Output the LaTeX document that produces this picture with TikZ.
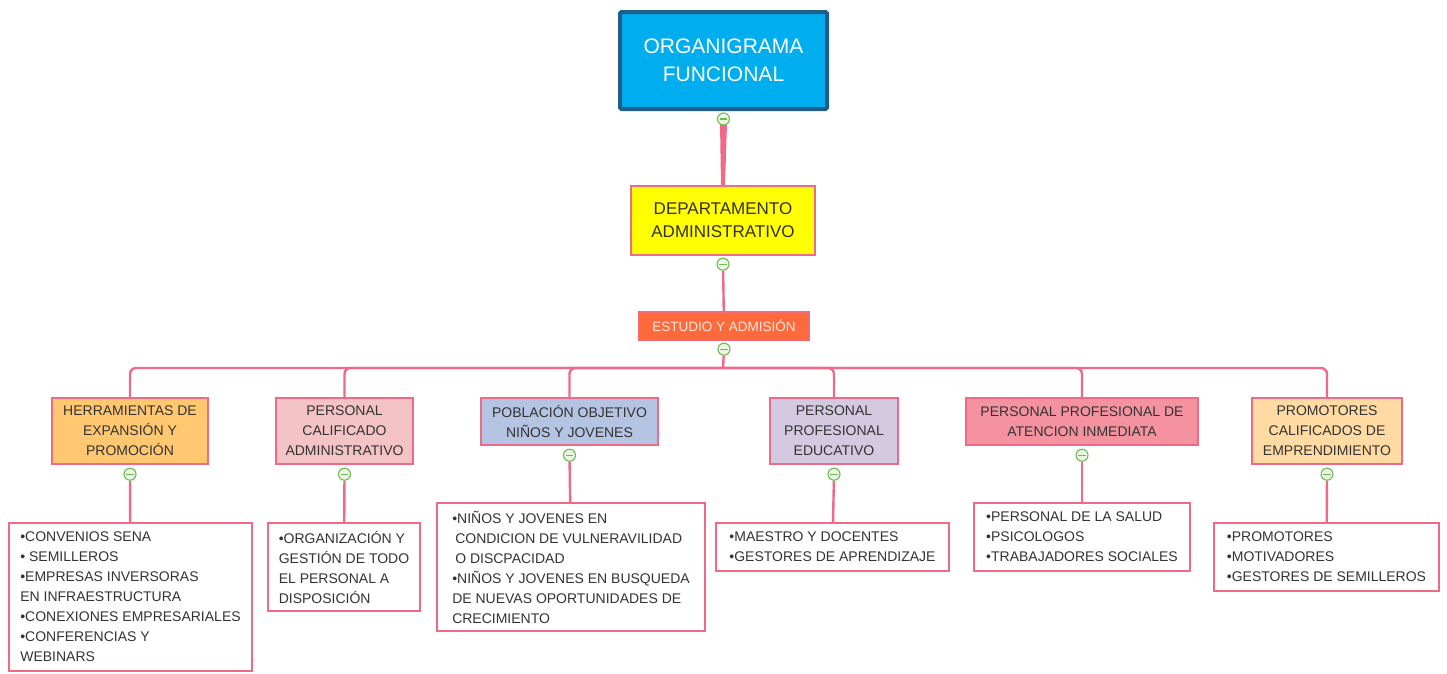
\documentclass[tikz,border=0pt]{standalone}
\usepackage{fontspec}
\setmainfont{Liberation Sans}
\usetikzlibrary{calc,backgrounds}
\definecolor{pinkc}{HTML}{F06A88}
\definecolor{txtc}{HTML}{333333}
\definecolor{topfill}{HTML}{00AEEF}
\definecolor{topborder}{HTML}{1D5E8A}
\definecolor{deptfill}{HTML}{FFFF00}
\definecolor{estfill}{HTML}{FF6A3D}
\definecolor{esttext}{HTML}{FFE6DA}
\definecolor{fherr}{HTML}{FFC870}
\definecolor{fpca}{HTML}{F4C3C5}
\definecolor{fpob}{HTML}{B4C4E2}
\definecolor{fppe}{HTML}{D3C9E0}
\definecolor{faten}{HTML}{F4939F}
\definecolor{fprom}{HTML}{FFDAA2}
\definecolor{colline}{HTML}{72B85A}
\definecolor{colfill}{HTML}{EAF6E2}
\tikzset{
  box/.style={draw=pinkc, line width=2.4pt, inner sep=2pt, align=center, text=txtc,
    font=\fontsize{14}{20}\selectfont},
  leafbox/.style={box, fill=white, align=left},
  conn/.style={draw=pinkc, line width=2.4pt},
  collapse/.style={circle, draw=colline, fill=colfill, line width=1.1pt, minimum size=12pt,
    inner sep=0pt,
    path picture={\draw[colline, line width=1.4pt]
      ([xshift=-3.6pt]path picture bounding box.center) --
      ([xshift=3.6pt]path picture bounding box.center);}},
}
\begin{document}
\begin{tikzpicture}[x=1pt,y=-1pt]
\useasboundingbox (0,0) rectangle (1447,673);
% top
\node[draw=topborder, fill=topfill, line width=4pt, rounded corners=1.5pt, minimum width=207pt,
  minimum height=97pt, text=white, align=center, font=\fontsize{21}{28}\selectfont]
  (top) at (723.5,60.5) {ORGANIGRAMA\\FUNCIONAL};
\node[box, fill=deptfill, minimum width=184pt, minimum height=69pt, text=black!85!olive,
  font=\fontsize{17}{23}\selectfont] (dept) at (723,220.5) {DEPARTAMENTO\\ADMINISTRATIVO};
\node[box, fill=estfill, draw=pinkc!70!estfill, minimum width=170pt, minimum height=28pt, text=esttext,
  font=\fontsize{13.5}{18}\selectfont] (est) at (724,326) {ESTUDIO Y ADMISIÓN};
% level 3
\node[box, fill=fherr, minimum width=156pt, minimum height=66pt] (h1) at (130,431)
  {HERRAMIENTAS DE\\EXPANSIÓN Y\\PROMOCIÓN};
\node[box, fill=fpca, minimum width=137pt, minimum height=66pt] (h2) at (344.5,431)
  {PERSONAL\\CALIFICADO\\ADMINISTRATIVO};
\node[box, fill=fpob, minimum width=177pt, minimum height=47pt] (h3) at (569.5,421.5)
  {POBLACIÓN OBJETIVO\\NIÑOS Y JOVENES};
\node[box, fill=fppe, minimum width=128pt, minimum height=66pt] (h4) at (834,431)
  {PERSONAL\\PROFESIONAL\\EDUCATIVO};
\node[box, fill=faten, minimum width=232pt, minimum height=47pt] (h5) at (1082,421.5)
  {PERSONAL PROFESIONAL DE\\ATENCION INMEDIATA};
\node[box, fill=fprom, minimum width=150pt, minimum height=66pt] (h6) at (1327,431)
  {PROMOTORES\\CALIFICADOS DE\\EMPRENDIMIENTO};
% level 4
\node[leafbox, minimum width=243pt, minimum height=148pt] (l1) at (130.5,597)
  {•CONVENIOS SENA\\• SEMILLEROS\\•EMPRESAS INVERSORAS\\EN INFRAESTRUCTURA\\•CONEXIONES EMPRESARIALES\\•CONFERENCIAS Y\\WEBINARS};
\node[leafbox, minimum width=152pt, minimum height=88pt] (l2) at (344,567)
  {•ORGANIZACIÓN Y\\GESTIÓN DE TODO\\EL PERSONAL A\\DISPOSICIÓN};
\node[leafbox, minimum width=268pt, minimum height=128pt] (l3) at (571,567)
  {•NIÑOS Y JOVENES EN\\\hspace*{3pt}CONDICION DE VULNERAVILIDAD\\\hspace*{3pt}O DISCPACIDAD\\•NIÑOS Y JOVENES EN BUSQUEDA\\DE NUEVAS OPORTUNIDADES DE\\CRECIMIENTO};
\node[leafbox, minimum width=233pt, minimum height=48pt] (l4) at (832.5,547)
  {•MAESTRO Y DOCENTES\\•GESTORES DE APRENDIZAJE};
\node[leafbox, minimum width=216pt, minimum height=68pt] (l5) at (1082,537)
  {•PERSONAL DE LA SALUD\\•PSICOLOGOS\\•TRABAJADORES SOCIALES};
\node[leafbox, minimum width=225pt, minimum height=68pt] (l6) at (1326.5,557)
  {•PROMOTORES\\•MOTIVADORES\\•GESTORES DE SEMILLEROS};
% collapse markers
\node[collapse] (c0) at ($(top.south)+(0,8)$) {};
\node[collapse] (cd) at ($(dept.south)+(0,8)$) {};
\node[collapse] (ce) at ($(est.south)+(0,8)$) {};
\foreach \i in {1,...,6} {\node[collapse] (c\i) at ($(h\i.south)+(0,9)$) {};}
\coordinate (bus) at (723,368);
% connectors
\begin{pgfonlayer}{background}
\fill[pinkc] ($(c0.south)+(-3.5,-2)$) -- ($(c0.south)+(3.5,-2)$) -- ($(dept.north)+(2,0)$) -- ($(dept.north)+(-2,0)$) -- cycle;
\draw[conn] (cd) -- (est);
\draw[conn] (ce) -- (bus);
\foreach \i in {1,...,6} {
  \draw[conn, rounded corners=6pt] (bus) -| (h\i.north);
  \draw[conn] (c\i) -- (l\i);
}
\end{pgfonlayer}
\end{tikzpicture}
\end{document}
